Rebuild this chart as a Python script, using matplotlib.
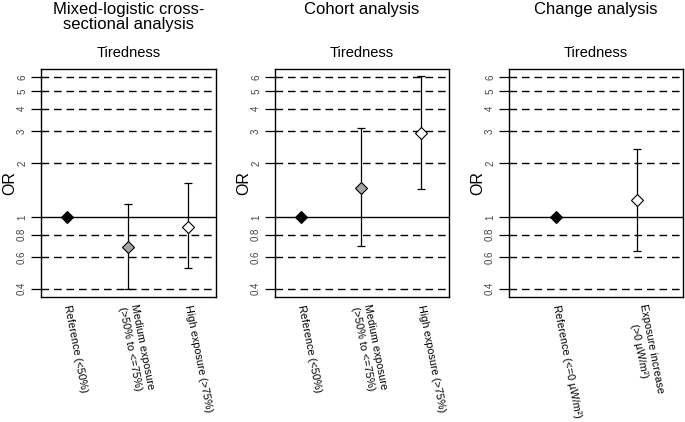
import numpy as np
import matplotlib
matplotlib.use("Agg")
import matplotlib.pyplot as plt

plt.rcParams['font.family'] = ['Liberation Sans', 'DejaVu Sans']

# Data (odds ratios with 95% CI)
titles = ["Mixed-logistic cross-\nsectional analysis", "Cohort analysis", "Change analysis"]
subtitle = "Tiredness"

labels_3 = ["Reference (<50%)", "Medium exposure\n(>50% to <=75%)", "High exposure (>75%)"]
labels_change = ["Reference (<=0 \u00b5W/m\u00b2)", "Exposure increase\n(>0 \u00b5W/m\u00b2)"]

cross_or = [1.0, 0.68, 0.88]
cross_lo = [1.0, 0.40, 0.52]
cross_hi = [1.0, 1.19, 1.54]

cohort_or = [1.0, 1.46, 2.93]
cohort_lo = [1.0, 0.69, 1.44]
cohort_hi = [1.0, 3.13, 6.05]

change_or = [1.0, 1.24]
change_lo = [1.0, 0.65]
change_hi = [1.0, 2.40]

grid_vals = [0.4, 0.6, 0.8, 2, 3, 4, 5, 6]
tick_vals = [0.4, 0.6, 0.8, 1, 2, 3, 4, 5, 6]
tick_text = ["0.4", "0.6", "0.8", "1", "2", "3", "4", "5", "6"]

W, H = 685, 422
fig = plt.figure(figsize=(W / 100, H / 100), dpi=100)

panels = [
    (41, 216, labels_3, cross_or, cross_lo, cross_hi, (0.57, 3.46), ["black", "#a6a6a6", "white"]),
    (275, 449, labels_3, cohort_or, cohort_lo, cohort_hi, (0.57, 3.46), ["black", "#a6a6a6", "white"]),
    (509, 683, labels_change, change_or, change_lo, change_hi, (0.42, 2.57), ["black", "white"]),
]
top_px, bot_px = 69, 297

for i, (l, r, labs, orv, lo, hi, xl, cols) in enumerate(panels):
    ax = fig.add_axes([l / W, (H - bot_px) / H, (r - l) / W, (bot_px - top_px) / H])
    ax.set_yscale('log')
    ax.set_ylim(0.36, 6.65)
    ax.set_xlim(*xl)
    for g in grid_vals:
        ax.axhline(g, color='black', lw=1.0, ls=(0, (5.5, 3.5)), zorder=1)
    ax.axhline(1, color='black', lw=1.0, zorder=1)

    x = np.arange(1, len(orv) + 1)
    for xi, o, a, b, c in zip(x, orv, lo, hi, cols):
        if b > a:
            ax.errorbar(xi, o, yerr=[[o - a], [b - o]], fmt='none', ecolor='black',
                        elinewidth=0.9, capsize=3, capthick=0.9, zorder=2)
        ax.plot(xi, o, marker='D', ms=6.5, mfc=c, mec='black', mew=0.8, zorder=3, ls='none')

    ax.yaxis.set_minor_locator(matplotlib.ticker.NullLocator())
    ax.set_yticks(tick_vals)
    ax.set_yticklabels(tick_text, rotation=90, va='center', fontsize=7, color='#444444')
    ax.tick_params(axis='y', length=7, width=0.9, pad=3)
    ax.set_xticks(x)
    ax.set_xticklabels(labs, rotation=281, rotation_mode='anchor', va='center', ha='left',
                       fontsize=7.8, multialignment='center', linespacing=1.3)
    ax.tick_params(axis='x', length=0, pad=6)
    for s in ax.spines.values():
        s.set_linewidth(1.0)
    ax.set_ylabel("OR", fontsize=11.5, labelpad=0)

    cx = (l + r) / 2 / W
    fig.text(cx, 1 - 2 / H, titles[i], ha='center', va='top', fontsize=12,
             linespacing=1.0)
    fig.text(cx, 1 - 53 / H, subtitle, ha='center', va='center', fontsize=10.5)

fig.savefig("out.png", dpi=100)
